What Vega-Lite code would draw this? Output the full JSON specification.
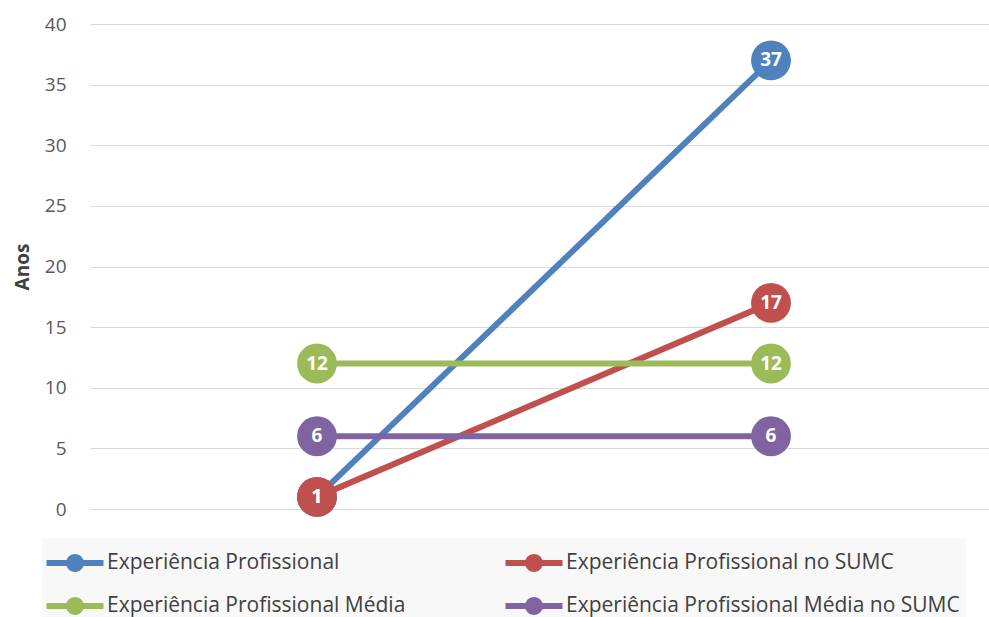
{
  "$schema": "https://vega.github.io/schema/vega-lite/v6.json",
  "width": 899,
  "height": 485,
  "autosize": {"type": "none"},
  "padding": {"left": 90, "top": 24, "right": 0, "bottom": 108},
  "background": "white",
  "config": {
    "font": "Open Sans",
    "view": {"stroke": null}
  },
  "data": {
    "values": [
      {"serie": "Experiência Profissional", "ponto": "Mínimo", "anos": 1},
      {"serie": "Experiência Profissional", "ponto": "Máximo", "anos": 37},
      {"serie": "Experiência Profissional no SUMC", "ponto": "Mínimo", "anos": 1},
      {"serie": "Experiência Profissional no SUMC", "ponto": "Máximo", "anos": 17},
      {"serie": "Experiência Profissional Média", "ponto": "Mínimo", "anos": 12},
      {"serie": "Experiência Profissional Média", "ponto": "Máximo", "anos": 12},
      {"serie": "Experiência Profissional Média no SUMC", "ponto": "Mínimo", "anos": 6},
      {"serie": "Experiência Profissional Média no SUMC", "ponto": "Máximo", "anos": 6}
    ]
  },
  "encoding": {
    "x": {
      "field": "ponto",
      "type": "ordinal",
      "sort": ["Mínimo", "Máximo"],
      "scale": {"type": "point", "range": [0, 908], "padding": 0.5},
      "axis": null
    },
    "y": {
      "field": "anos",
      "type": "quantitative",
      "scale": {"domain": [0, 40]},
      "axis": {
        "title": "Anos",
        "values": [0, 5, 10, 15, 20, 25, 30, 35, 40],
        "domain": false,
        "ticks": false,
        "grid": true,
        "gridColor": "#d9d9d9",
        "gridWidth": 1,
        "labelFont": "Open Sans",
        "labelFontSize": 19,
        "labelColor": "#595959",
        "labelPadding": 24,
        "titleFont": "Open Sans",
        "titleFontSize": 19,
        "titleFontWeight": "bold",
        "titleColor": "#404040",
        "titlePadding": 12
      }
    },
    "color": {
      "field": "serie",
      "type": "nominal",
      "sort": ["Experiência Profissional", "Experiência Profissional no SUMC", "Experiência Profissional Média", "Experiência Profissional Média no SUMC"],
      "scale": {
        "domain": ["Experiência Profissional", "Experiência Profissional no SUMC", "Experiência Profissional Média", "Experiência Profissional Média no SUMC"],
        "range": ["#4f81bd", "#c0504d", "#9bbb59", "#8064a2"]
      },
      "legend": {
        "title": null,
        "orient": "none",
        "legendX": -48,
        "legendY": 514,
        "direction": "horizontal",
        "columns": 2,
        "columnPadding": 99,
        "rowPadding": 14,
        "padding": 6,
        "fillColor": "#f8f8f8",
        "symbolType": "M-1.5,-0.16H1.5V0.16H-1.5Z M-0.47,0A0.47,0.47 0 1,1 0.47,0A0.47,0.47 0 1,1 -0.47,0Z",
        "symbolSize": 1444,
        "symbolStrokeWidth": 0,
        "symbolOffset": 8,
        "labelOffset": 13,
        "labelFont": "Open Sans",
        "labelFontSize": 21,
        "labelColor": "#404040",
        "labelLimit": 500,
        "encode": {
          "symbols": {
            "update": {
              "fill": {"scale": "color", "field": "value"},
              "fillOpacity": {"value": 1},
              "strokeWidth": {"value": 0}
            }
          }
        }
      }
    }
  },
  "layer": [
    {
      "mark": {"type": "line", "strokeWidth": 6}
    },
    {
      "mark": {"type": "point", "filled": true, "opacity": 1, "size": 1590, "shape": "circle"}
    },
    {
      "mark": {"type": "text", "color": "white", "fontWeight": "bold", "fontSize": 19, "font": "Open Sans", "baseline": "middle", "align": "center"},
      "encoding": {
        "text": {"field": "anos", "type": "quantitative"},
        "color": {"value": "white"}
      }
    }
  ]
}
